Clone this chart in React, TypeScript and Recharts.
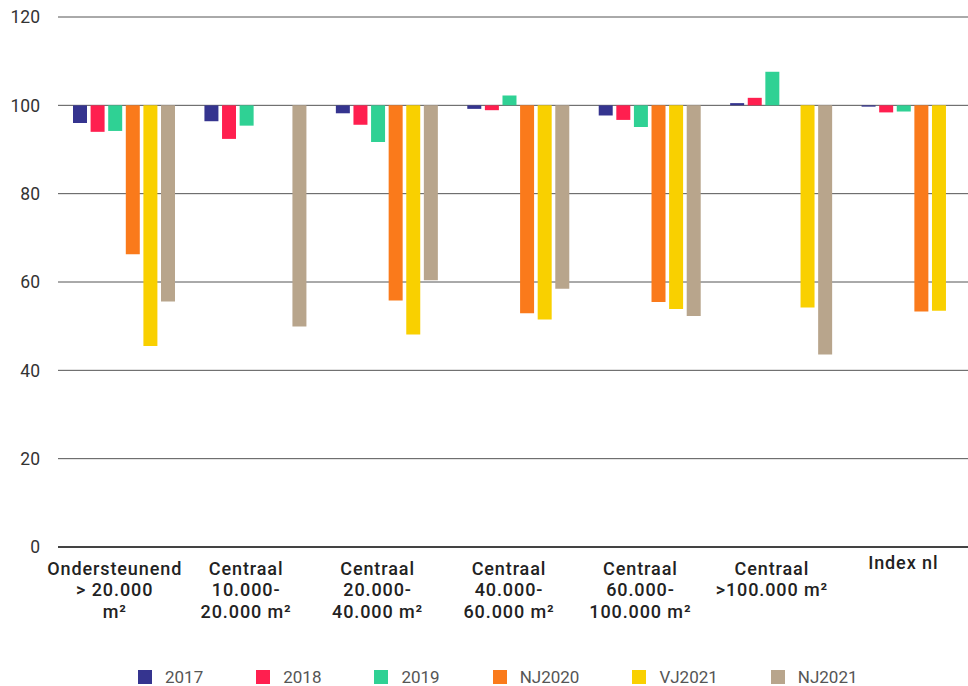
import React from "react";
import { BarChart, Bar, XAxis, YAxis, CartesianGrid, Legend } from "recharts";

const categories = [
  "Ondersteunend|> 20.000|m²",
  "Centraal|10.000-|20.000 m²",
  "Centraal|20.000-|40.000 m²",
  "Centraal|40.000-|60.000 m²",
  "Centraal|60.000-|100.000 m²",
  "Centraal|>100.000 m²",
  "Index nl",
];
const s2017 = [96.0, 96.4, 98.2, 99.2, 97.7, 100.5, 99.7];
const s2018 = [94.0, 92.4, 95.6, 98.9, 96.7, 101.7, 98.4];
const s2019 = [94.2, 95.4, 91.7, 102.2, 95.1, 107.6, 98.6];
const nj2020 = [66.3, null, 55.8, 52.9, 55.5, null, 53.3];
const vj2021 = [45.5, null, 48.1, 51.5, 53.9, 54.2, 53.5];
const nj2021 = [55.6, 49.9, 60.4, 58.5, 52.3, 43.6, null];
const yTicks = [0, 20, 40, 60, 80, 100, 120];
const baseline = 100;

const seriesNames = ["2017", "2018", "2019", "NJ2020", "VJ2021", "NJ2021"];
const seriesValues = [s2017, s2018, s2019, nj2020, vj2021, nj2021];
const seriesColors = ["#35348f", "#ff1f4f", "#2fd194", "#fa7a1b", "#f9d000", "#b8a58c"];

const data = categories.map((c, i) => {
  const row: any = { name: c };
  seriesNames.forEach((s, k) => {
    const v = seriesValues[k][i];
    row[s] = v == null ? null : [baseline, v];
  });
  return row;
});

const FONT = "Roboto, 'Noto Sans', sans-serif";

const XTick = (props: any) => {
  const { x, y, payload } = props;
  const lines = String(payload.value).split("|");
  const single = lines.length === 1;
  const cx = x - 9;
  return (
    <text
      x={cx}
      y={y}
      textAnchor="middle"
      fill="#222"
      fontFamily={FONT}
      fontWeight={500}
      fontSize={18}
      letterSpacing={0.9}
    >
      {lines.map((l, i) => (
        <tspan key={i} x={cx} dy={i === 0 ? (single ? 14 : 19.5) : 21.8}>
          {l}
        </tspan>
      ))}
    </text>
  );
};

const LegendContent = () => {
  return (
    <div style={{ display: "flex", justifyContent: "flex-start", paddingLeft: 138, paddingTop: 27 }}>
      {seriesNames.map((s, k) => (
        <div
          key={s}
          style={{
            display: "flex",
            alignItems: "center",
            height: 14,
            lineHeight: "14px",
            marginRight: 53,
            fontFamily: FONT,
            fontSize: 17,
            fontWeight: 400,
            color: "#555",
          }}
        >
          <span
            style={{
              display: "inline-block",
              width: 14,
              height: 14,
              background: seriesColors[k],
              marginRight: 13,
            }}
          />
          {s}
        </div>
      ))}
    </div>
  );
};

export default function App() {
  return (
    <div
      style={{
        position: "absolute",
        left: 0,
        top: 0,
        width: 968,
        height: 686,
        overflow: "hidden",
        background: "#fff",
      }}
    >
      <BarChart
        width={978}
        height={686}
        data={data}
        margin={{ top: 17, right: 0, left: 0, bottom: 0 }}
        barGap={3.6}
        barCategoryGap={14}
      >
        <CartesianGrid vertical={false} stroke="#555" strokeWidth={1} />
        <XAxis
          dataKey="name"
          interval={0}
          tick={<XTick />}
          tickLine={false}
          axisLine={{ stroke: "#222", strokeWidth: 1.5 }}
          height={96}
        />
        <YAxis
          domain={[0, 120]}
          ticks={yTicks}
          width={58}
          axisLine={false}
          tickLine={false}
          tick={{ fill: "#333", fontSize: 17.5, fontFamily: FONT, dx: -10 }}
        />
        <Legend content={<LegendContent />} height={43} verticalAlign="bottom" />
        {seriesNames.map((s, k) => (
          <Bar
            key={s}
            dataKey={s}
            name={s}
            fill={seriesColors[k]}
            barSize={14}
            isAnimationActive={false}
          />
        ))}
      </BarChart>
    </div>
  );
}
